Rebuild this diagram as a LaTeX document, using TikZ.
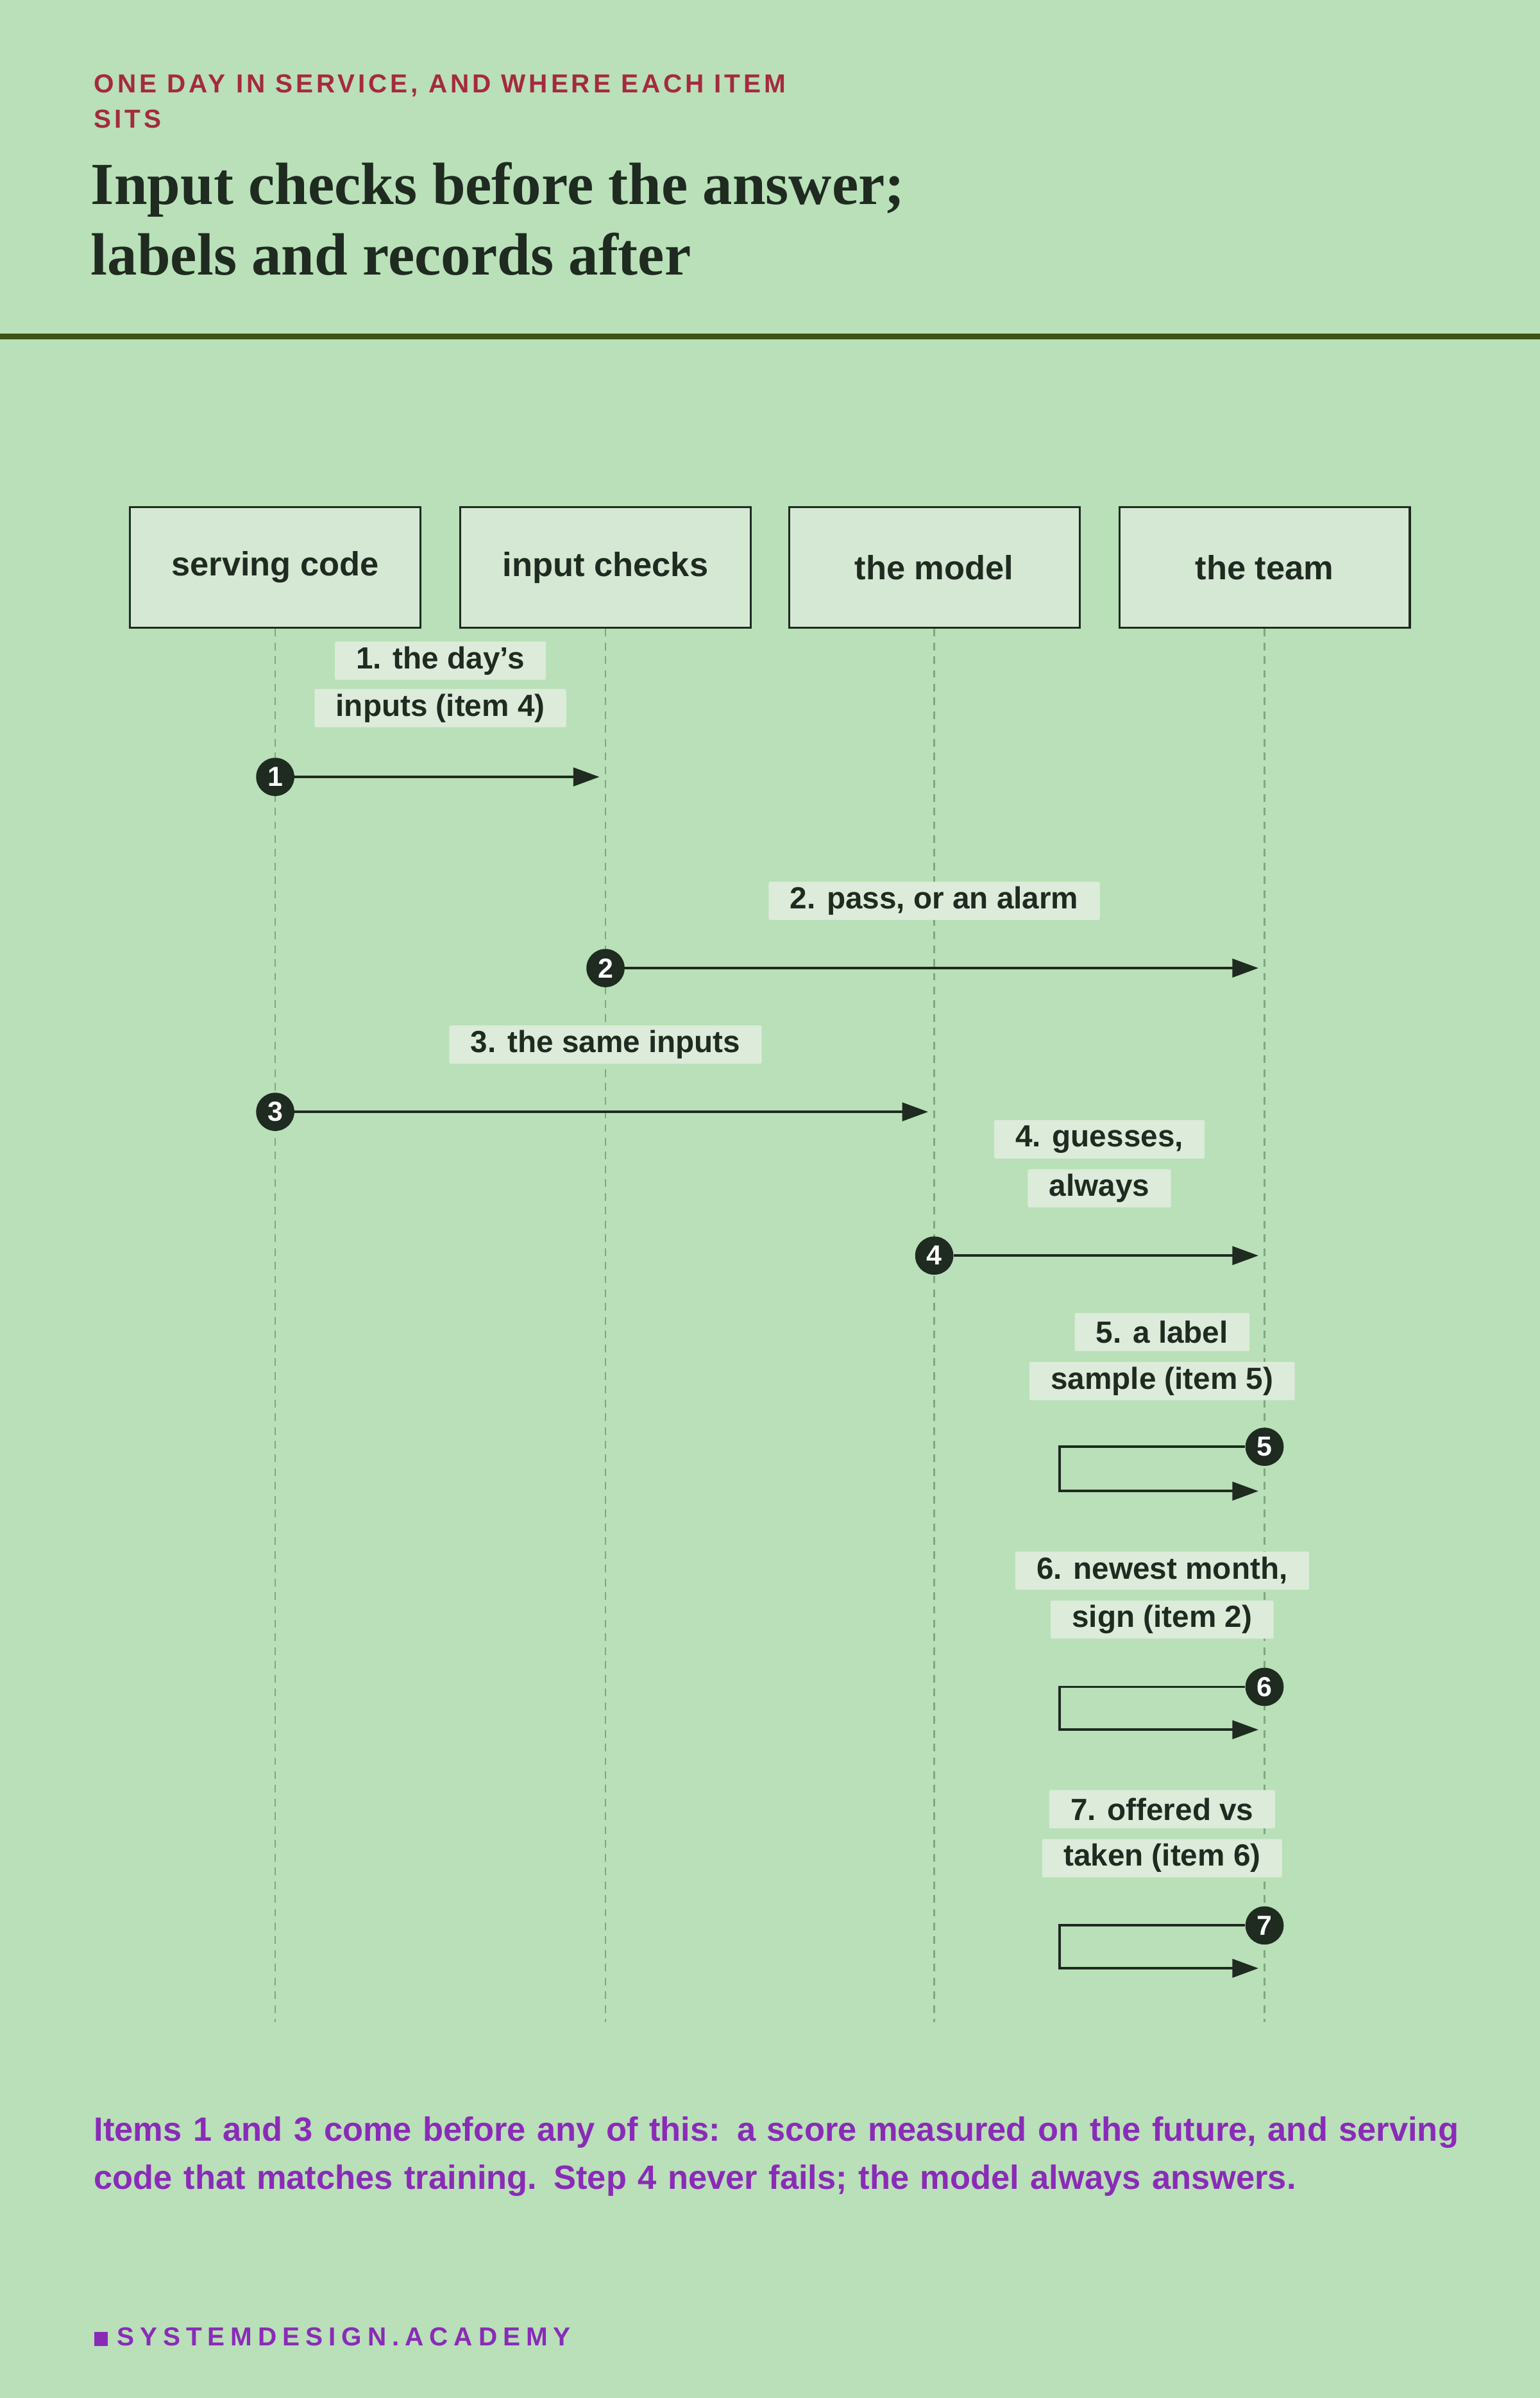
\documentclass[tikz,border=0pt]{standalone}
\usepackage{fontspec}
\setmainfont{Liberation Serif}
\setsansfont{Liberation Sans}
\usetikzlibrary{arrows.meta}
\definecolor{bg}{HTML}{B9E0B8}
\definecolor{boxf}{HTML}{D5E8D3}
\definecolor{labf}{HTML}{DCEBDA}
\definecolor{ink}{HTML}{1F2A20}
\definecolor{olive}{HTML}{3D5216}
\definecolor{kred}{HTML}{A52A3F}
\definecolor{purp}{HTML}{8A2BB8}
\definecolor{lifec}{HTML}{7FA880}
\begin{document}
\begin{tikzpicture}[x=1pt,y=-1pt,
 actor/.style={draw=ink,line width=1.3pt,fill=boxf,minimum width=190pt,minimum height=79pt,font=\sffamily\bfseries\fontsize{22}{26}\selectfont,text=ink},
 lab/.style={fill=labf,rounded corners=1pt,inner xsep=14pt,inner ysep=0pt,minimum height=25pt,font=\sffamily\bfseries\fontsize{20}{24}\selectfont,text=ink},
 life/.style={draw=lifec,line width=1pt,dash pattern=on 5pt off 4pt},
 msg/.style={draw=ink,line width=1.6pt,-{Triangle[length=17pt,width=12pt]}},
 num/.style={circle,fill=ink,inner sep=0pt,minimum size=25pt,text=white,font=\sffamily\bfseries\fontsize{18}{20}\selectfont}]
\fill[bg] (0,0) rectangle (1007,1568);
\useasboundingbox (0,0) rectangle (1007,1568);
\draw[olive,line width=4pt] (0,220) -- (1007,220);
\node[anchor=west,text=kred,font=\sffamily\bfseries\fontsize{17}{20}\selectfont\addfontfeature{LetterSpace=12}] (k1) at (58,56) {ONE DAY IN SERVICE, AND WHERE EACH ITEM};
\node[anchor=west,text=kred,font=\sffamily\bfseries\fontsize{17}{20}\selectfont\addfontfeature{LetterSpace=12}] (k2) at (58,78) {SITS};
\node[anchor=west,text=ink,font=\bfseries\fontsize{39}{42}\selectfont] (t1) at (56,124) {Input checks before the answer;};
\node[anchor=west,text=ink,font=\bfseries\fontsize{39}{42}\selectfont] (t2) at (56,166) {labels and records after};
\node[actor] (a) at (180,371) {serving code};
\node[actor] (b) at (396,371) {input checks};
\node[actor] (c) at (611,371) {the model};
\node[actor] (d) at (827,371) {the team};
\foreach \n/\x in {a/180,b/396,c/611,d/827}{
 \coordinate (e\n) at (\x,1322);
 \draw[life] (\n.south) -- (e\n);}
% 1
\node[lab] (l1a) at (288,432) {1. the day's};
\node[lab] (l1b) at (288,463) {inputs (item 4)};
\node[num] (n1) at (180,508) {1};
\coordinate (m1) at (392,508);
\draw[msg] (n1) -- (m1);
% 2
\node[lab] (l2) at (611,589) {2. pass, or an alarm};
\node[num] (n2) at (396,633) {2};
\coordinate (m2) at (823,633);
\draw[msg] (n2) -- (m2);
% 3
\node[lab] (l3) at (396,683) {3. the same inputs};
\node[num] (n3) at (180,727) {3};
\coordinate (m3) at (607,727);
\draw[msg] (n3) -- (m3);
% 4
\node[lab] (l4a) at (719,745) {4. guesses,};
\node[lab] (l4b) at (719,777) {always};
\node[num] (n4) at (611,821) {4};
\coordinate (m4) at (823,821);
\draw[msg] (n4) -- (m4);
% 5
\node[lab] (l5a) at (760,871) {5. a label};
\node[lab] (l5b) at (760,903) {sample (item 5)};
\node[num] (n5) at (827,946) {5};
\coordinate (m5) at (823,975);
\draw[msg] (n5.west) -| (693,975) -- (m5);
% 6
\node[lab] (l6a) at (760,1027) {6. newest month,};
\node[lab] (l6b) at (760,1059) {sign (item 2)};
\node[num] (n6) at (827,1103) {6};
\coordinate (m6) at (823,1131);
\draw[msg] (n6.west) -| (693,1131) -- (m6);
% 7
\node[lab] (l7a) at (760,1183) {7. offered vs};
\node[lab] (l7b) at (760,1215) {taken (item 6)};
\node[num] (n7) at (827,1259) {7};
\coordinate (m7) at (823,1287);
\draw[msg] (n7.west) -| (693,1287) -- (m7);
\node[anchor=west,text=purp,font=\sffamily\bfseries\fontsize{22}{31.5}\selectfont,align=left,text width=900pt] (foot) at (58,1410) {Items 1 and 3 come before any of this: a score measured on the future, and serving code that matches training. Step 4 never fails; the model always answers.};
\node[anchor=west,text=purp,font=\sffamily\bfseries\fontsize{17}{20}\selectfont\addfontfeature{LetterSpace=22}] (brand) at (58,1528) {\rule{9pt}{9pt}\hspace{6pt}SYSTEMDESIGN.ACADEMY};
\end{tikzpicture}
\end{document}
